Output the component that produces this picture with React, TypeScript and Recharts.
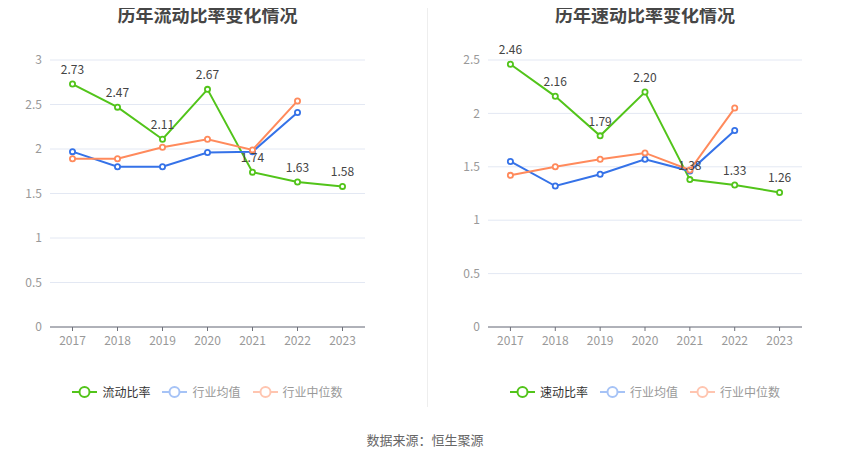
import React from "react";
import { LineChart, Line, XAxis, YAxis, CartesianGrid, LabelList } from "recharts";

const years = ["2017", "2018", "2019", "2020", "2021", "2022", "2023"];

const currentRatio = [2.73, 2.47, 2.11, 2.67, 1.74, 1.63, 1.58];
const currentIndustryAvg = [1.97, 1.8, 1.8, 1.96, 1.97, 2.41, null];
const currentIndustryMedian = [1.89, 1.89, 2.02, 2.11, 1.99, 2.54, null];
const currentTicks = [0, 0.5, 1, 1.5, 2, 2.5, 3];

const quickRatio = [2.46, 2.16, 1.79, 2.2, 1.38, 1.33, 1.26];
const quickIndustryAvg = [1.55, 1.32, 1.43, 1.57, 1.46, 1.84, null];
const quickIndustryMedian = [1.42, 1.5, 1.57, 1.63, 1.47, 2.05, null];
const quickTicks = [0, 0.5, 1, 1.5, 2, 2.5];

const GREEN = "#52c41a";
const BLUE = "#3572e8";
const ORANGE = "#ff8a5c";
const FONT = '"Noto Sans CJK SC", "Noto Sans", sans-serif';

interface PanelProps {
  title: string;
  name: string;
  main: number[];
  avg: (number | null)[];
  median: (number | null)[];
  ticks: number[];
  yWidth: number;
  rightMargin: number;
}

function Dot(props: any) {
  const { cx, cy, stroke, value } = props;
  if (value == null || cx == null || cy == null) return null;
  return <circle cx={cx} cy={cy} r={2.6} fill="#fff" stroke={stroke} strokeWidth={1.8} />;
}

function LegendItem({
  color,
  label,
  textColor,
  last,
}: {
  color: string;
  label: string;
  textColor: string;
  last?: boolean;
}) {
  return (
    <div style={{ display: "flex", alignItems: "center", marginRight: last ? 0 : 12 }}>
      <svg width={25} height={14} style={{ marginRight: 5 }}>
        <line x1={0} y1={7} x2={25} y2={7} stroke={color} strokeWidth={2} />
        <circle cx={12.5} cy={7} r={5} fill="#fff" stroke={color} strokeWidth={2} />
      </svg>
      <span style={{ color: textColor, fontSize: 12 }}>{label}</span>
    </div>
  );
}

function Panel({ title, name, main, avg, median, ticks, yWidth, rightMargin }: PanelProps) {
  const data = years.map((y, i) => ({ year: y, main: main[i], avg: avg[i], median: median[i] }));
  const width = 425;
  const plotWidth = width - yWidth - rightMargin;
  const plotCenter = yWidth + plotWidth / 2;
  const pad = plotWidth / years.length / 2;
  return (
    <div style={{ position: "relative", width, height: 420 }}>
      <div
        style={{
          position: "absolute",
          top: 1,
          left: plotCenter - 150,
          width: 300,
          textAlign: "center",
          fontSize: 18,
          fontWeight: "bold",
          color: "#464646",
        }}
      >
        {title}
      </div>
      <LineChart
        width={width}
        height={360}
        data={data}
        margin={{ top: 60, right: rightMargin, left: 0, bottom: 0 }}
      >
        <CartesianGrid vertical={false} stroke="#e3e8f3" />
        <XAxis
          dataKey="year"
          height={33}
          tickLine={{ stroke: "#6e7079" }}
          tickSize={4}
          tickMargin={5}
          axisLine={{ stroke: "#6e7079" }}
          tick={{ fontSize: 12, fill: "#999" }}
          padding={{ left: pad, right: pad }}
        />
        <YAxis
          width={yWidth}
          domain={[0, ticks[ticks.length - 1]]}
          ticks={ticks}
          axisLine={false}
          tickLine={false}
          tick={{ fontSize: 12, fill: "#999" }}
          tickMargin={2}
        />
        <Line
          dataKey="main"
          stroke={GREEN}
          strokeWidth={2}
          dot={<Dot />}
          activeDot={false}
          isAnimationActive={false}
        >
          <LabelList
            dataKey="main"
            position="top"
            offset={10}
            formatter={(v: any) => Number(v).toFixed(2)}
            style={{ fontSize: 12, fill: "#444" }}
          />
        </Line>
        <Line
          dataKey="avg"
          stroke={BLUE}
          strokeWidth={2}
          dot={<Dot />}
          activeDot={false}
          isAnimationActive={false}
        />
        <Line
          dataKey="median"
          stroke={ORANGE}
          strokeWidth={2}
          dot={<Dot />}
          activeDot={false}
          isAnimationActive={false}
        />
      </LineChart>
      <div
        style={{
          position: "absolute",
          top: 383,
          left: plotCenter - 200,
          width: 400,
          display: "flex",
          justifyContent: "center",
        }}
      >
        <LegendItem color={GREEN} label={name} textColor="#333" />
        <LegendItem color="#a6c3f6" label="行业均值" textColor="#999" />
        <LegendItem color="#ffc5b0" label="行业中位数" textColor="#999" last />
      </div>
    </div>
  );
}

export default function App() {
  return (
    <div
      style={{
        position: "relative",
        width: 850,
        height: 459,
        margin: -8,
        background: "#fff",
        fontFamily: FONT,
        overflow: "hidden",
      }}
    >
      <div style={{ display: "flex" }}>
        <Panel
          title="历年流动比率变化情况"
          name="流动比率"
          main={currentRatio}
          avg={currentIndustryAvg}
          median={currentIndustryMedian}
          ticks={currentTicks}
          yWidth={50}
          rightMargin={60}
        />
        <Panel
          title="历年速动比率变化情况"
          name="速动比率"
          main={quickRatio}
          avg={quickIndustryAvg}
          median={quickIndustryMedian}
          ticks={quickTicks}
          yWidth={63}
          rightMargin={48}
        />
      </div>
      <div
        style={{
          position: "absolute",
          left: 427,
          top: 0,
          width: 1,
          height: 407,
          background: "#eeeeee",
        }}
      />
      <div
        style={{
          position: "absolute",
          top: 430,
          width: 850,
          textAlign: "center",
          fontSize: 13,
          color: "#666",
        }}
      >
        数据来源：恒生聚源
      </div>
    </div>
  );
}
